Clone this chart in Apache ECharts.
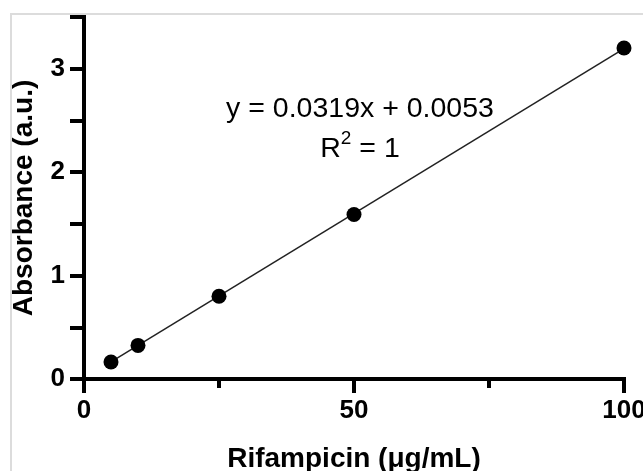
<!DOCTYPE html>
<html>
<head>
<meta charset="utf-8">
<script src="https://cdn.jsdelivr.net/npm/echarts@6/dist/echarts.min.js"></script>
<style>
  html, body { margin: 0; padding: 0; background: #fff; }
  #chart { width: 643px; height: 471px; }
</style>
</head>
<body>
<div id="chart"></div>
<script>
// measured points (concentration, absorbance)
const concentration = [5, 10, 25, 50, 100]
const absorbance = [0.165, 0.325, 0.8, 1.59, 3.2]
// fitted line end points: y = 0.0319x + 0.0053
const fitX = [5, 100]
const fitY = [0.165, 3.195]
const equationText = 'y = 0.0319x + 0.0053'
const r2Text = 'R{sup|2} = 1'

const chart = echarts.init(document.getElementById('chart'))
const font = '"Liberation Sans", Arial, Helvetica, sans-serif'

chart.setOption({
    backgroundColor: '#fff',
    animation: false,
    textStyle: { fontFamily: font },
    graphic: [
        {
            type: 'rect',
            z: -1,
            shape: { x: 11, y: 14, width: 700, height: 500 },
            style: { fill: '#fff', stroke: '#dcdcdc', lineWidth: 2 }
        }
    ],
    grid: {
        left: 84,
        right: 19,
        top: 17,
        bottom: 92,
        outerBoundsMode: 'none' // let "100" and the x name run off the edge like the original
    },
    xAxis: {
        type: 'value',
        min: 0,
        max: 100,
        interval: 50,
        name: 'Rifampicin (μg/mL)',
        nameLocation: 'middle',
        nameGap: 66,
        nameTextStyle: { fontSize: 28, fontWeight: 'bold', color: '#000', fontFamily: font },
        axisLine: { onZero: false, lineStyle: { color: '#000', width: 4, cap: 'square' } },
        axisTick: { show: true, length: 14, lineStyle: { color: '#000', width: 4 } },
        minorTick: { show: true, splitNumber: 2, length: 9, lineStyle: { color: '#000', width: 4 } },
        axisLabel: { fontSize: 26, fontWeight: 'bold', color: '#000', margin: 19, fontFamily: font },
        splitLine: { show: false }
    },
    yAxis: {
        type: 'value',
        min: 0,
        max: 3.5,
        interval: 0.5,
        name: 'Absorbance (a.u.)',
        nameLocation: 'middle',
        nameGap: 46,
        nameTextStyle: { fontSize: 28, fontWeight: 'bold', color: '#000', fontFamily: font },
        axisLine: { onZero: false, lineStyle: { color: '#000', width: 4, cap: 'square' } },
        axisTick: { show: true, length: 14, lineStyle: { color: '#000', width: 4 } },
        axisLabel: {
            fontSize: 26,
            fontWeight: 'bold',
            color: '#000',
            margin: 19,
            fontFamily: font,
            formatter: function (v) {
                return v % 1 === 0 ? String(v) : ''
            }
        },
        splitLine: { show: false }
    },
    series: [
        {
            name: 'fit',
            type: 'line',
            data: fitX.map((x, i) => [x, fitY[i]]),
            symbol: 'none',
            lineStyle: { color: '#222', width: 1.5 },
            z: 2
        },
        {
            name: 'data',
            type: 'scatter',
            data: concentration.map((x, i) => [x, absorbance[i]]),
            symbol: 'circle',
            symbolSize: 15,
            itemStyle: { color: '#000', opacity: 1 },
            z: 3
        }
    ],
    // equation annotation
    title: {
        text: equationText + '\n' + r2Text,
        left: 355,
        top: 84,
        textAlign: 'center',
        textStyle: {
            fontSize: 28.5,
            fontWeight: 'normal',
            color: '#000',
            fontFamily: font,
            lineHeight: 40,
            rich: {
                sup: { fontSize: 19, verticalAlign: 'top', lineHeight: 34, color: '#000', fontFamily: font }
            }
        }
    }
})
</script>
</body>
</html>
